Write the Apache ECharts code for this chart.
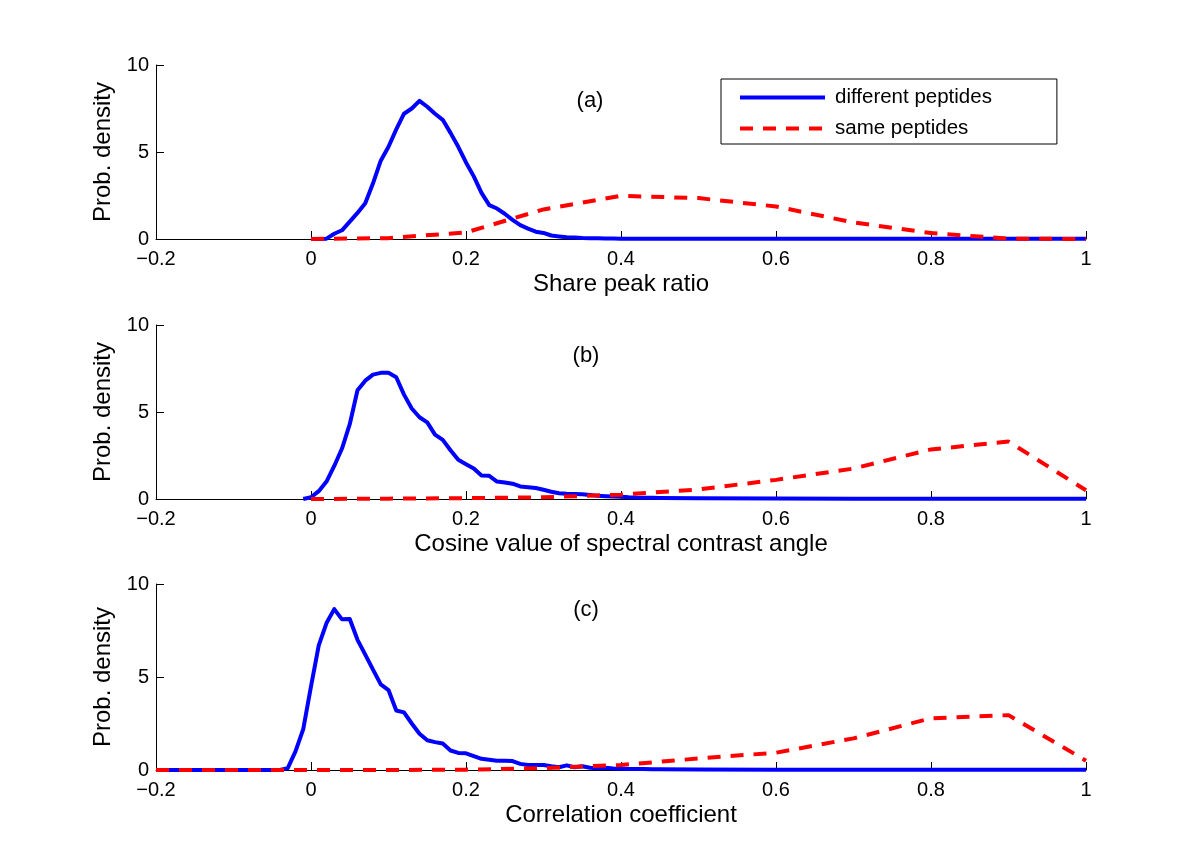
<!DOCTYPE html>
<html>
<head>
<meta charset="utf-8">
<script src="https://cdn.jsdelivr.net/npm/echarts@6/dist/echarts.min.js"></script>
<style>
html,body{margin:0;padding:0;background:#fff;}
#chart{width:1200px;height:866px;}
</style>
</head>
<body>
<div id="chart"></div>
<script>
// ---------- data ----------
var seriesNames = ['different peptides', 'same peptides'];
var panelLabels = ['(a)', '(b)', '(c)'];
var xTitles = ['Share peak ratio', 'Cosine value of spectral contrast angle', 'Correlation coefficient'];
var yTitle = 'Prob. density';

// (a) Share peak ratio
var aDiffX = [0,0.01,0.02,0.03,0.04,0.05,0.06,0.07,0.08,0.09,0.10,0.11,0.12,0.13,0.14,0.15,0.16,0.17,0.18,0.19,0.20,0.21,0.22,0.23,0.24,0.25,0.26,0.27,0.28,0.29,0.30,0.31,0.32,0.33,0.34,0.35,0.36,0.37,0.38,0.39,0.40,0.5,0.6,0.7,0.8,0.9,1.0];
var aDiffY = [0,0,0.02,0.3,0.5,1.0,1.5,2.06,3.2,4.5,5.3,6.3,7.2,7.5,7.94,7.6,7.2,6.85,6.1,5.3,4.4,3.6,2.65,1.95,1.75,1.45,1.1,0.8,0.6,0.42,0.35,0.2,0.15,0.1,0.08,0.06,0.05,0.04,0.03,0.03,0.02,0.02,0.01,0.01,0.01,0.01,0.01];
var aSameX = [0,0.1,0.2,0.3,0.4,0.5,0.6,0.7,0.8,0.9,1.0];
var aSameY = [0,0.05,0.38,1.7,2.48,2.35,1.87,0.95,0.34,0.02,0];

// (b) Cosine value of spectral contrast angle
var bDiffX = [-0.01,0,0.01,0.02,0.03,0.04,0.05,0.06,0.07,0.08,0.09,0.10,0.11,0.12,0.13,0.14,0.15,0.16,0.17,0.18,0.19,0.20,0.21,0.22,0.23,0.24,0.25,0.26,0.27,0.28,0.29,0.30,0.31,0.32,0.33,0.34,0.35,0.36,0.37,0.38,0.39,0.40,0.41,0.42,0.43,0.44,0.45,0.5,0.6,0.7,0.8,0.9,1.0];
var bDiffY = [0,0.1,0.45,1.0,1.9,2.9,4.3,6.25,6.8,7.15,7.25,7.25,7.0,6.0,5.2,4.7,4.4,3.7,3.4,2.8,2.25,2.0,1.75,1.35,1.33,1.0,0.95,0.88,0.72,0.68,0.63,0.53,0.42,0.33,0.3,0.29,0.27,0.23,0.18,0.16,0.14,0.13,0.1,0.08,0.07,0.07,0.06,0.05,0.03,0.02,0.02,0.01,0.01];
var bSameX = [0,0.1,0.2,0.3,0.4,0.5,0.6,0.7,0.8,0.9,1.0];
var bSameY = [0,0.02,0.05,0.1,0.25,0.55,1.1,1.75,2.85,3.3,0.5];

// (c) Correlation coefficient
var cDiffX = [-0.2,-0.1,-0.05,-0.04,-0.03,-0.02,-0.01,0,0.01,0.02,0.03,0.04,0.05,0.06,0.07,0.08,0.09,0.10,0.11,0.12,0.13,0.14,0.15,0.16,0.17,0.18,0.19,0.20,0.21,0.22,0.23,0.24,0.25,0.26,0.27,0.28,0.29,0.30,0.31,0.32,0.33,0.34,0.35,0.36,0.37,0.38,0.39,0.40,0.41,0.42,0.43,0.44,0.45,0.5,0.6,0.7,0.8,0.9,1.0];
var cDiffY = [0,0,0,0,0.1,1.0,2.2,4.5,6.7,7.9,8.65,8.1,8.12,7.0,6.2,5.4,4.6,4.3,3.2,3.1,2.5,1.95,1.6,1.5,1.42,1.05,0.92,0.9,0.75,0.6,0.55,0.5,0.5,0.48,0.33,0.27,0.27,0.27,0.2,0.15,0.25,0.15,0.2,0.12,0.1,0.12,0.08,0.07,0.06,0.05,0.05,0.04,0.04,0.03,0.02,0.02,0.01,0.01,0.01];
var cSameX = [-0.2,-0.1,0,0.1,0.2,0.3,0.4,0.5,0.6,0.7,0.8,0.9,1.0];
var cSameY = [0,0,0,0,0.02,0.1,0.27,0.62,0.93,1.7,2.78,2.95,0.5];

var xTicks = {min: -0.2, max: 1, interval: 0.2};
var yTicks = {min: 0, max: 10, interval: 5};

// ---------- build ----------
function pairs(xs, ys) { return xs.map(function (x, i) { return [x, ys[i]]; }); }

var FONT = 'Liberation Sans, Arial, Helvetica, sans-serif';
var panels = [
  {diff: pairs(aDiffX, aDiffY), same: pairs(aSameX, aSameY)},
  {diff: pairs(bDiffX, bDiffY), same: pairs(bSameX, bSameY)},
  {diff: pairs(cDiffX, cDiffY), same: pairs(cSameX, cSameY)}
];
var grids = [
  {left: 156, right: 114, top: 65, height: 174},
  {left: 156, right: 114, top: 325, height: 174},
  {left: 156, right: 114, top: 584, height: 186}
];
var labelPos = [[590, 101], [586, 356], [586, 610]];

var xAxes = [], yAxes = [], series = [], graphics = [];
grids.forEach(function (g, i) {
  g.outerBoundsMode = 'none';
  g.containLabel = false;
  xAxes.push({
    type: 'value', gridIndex: i, min: xTicks.min, max: xTicks.max, interval: xTicks.interval,
    name: xTitles[i], nameLocation: 'middle', nameGap: 33,
    nameTextStyle: {fontFamily: FONT, fontSize: 24, color: '#000'},
    axisLine: {show: true, onZero: false, lineStyle: {color: '#000', width: 1}},
    axisTick: {show: true, inside: true, length: 8, lineStyle: {color: '#000', width: 1}},
    axisLabel: {fontFamily: FONT, fontSize: 20, color: '#000', margin: 10,
      formatter: function (v) { return String(+v.toFixed(2)).replace('-', '\u2212'); }},
    splitLine: {show: false}
  });
  yAxes.push({
    type: 'value', gridIndex: i, min: yTicks.min, max: yTicks.max, interval: yTicks.interval,
    name: yTitle, nameLocation: 'middle', nameGap: 35,
    nameTextStyle: {fontFamily: FONT, fontSize: 24, color: '#000'},
    axisLine: {show: true, onZero: false, lineStyle: {color: '#000', width: 1}},
    axisTick: {show: true, inside: true, length: 8, lineStyle: {color: '#000', width: 1}},
    axisLabel: {fontFamily: FONT, fontSize: 20, color: '#000', margin: 7},
    splitLine: {show: false}
  });
  series.push({
    name: seriesNames[0], type: 'line', xAxisIndex: i, yAxisIndex: i,
    data: panels[i].diff, symbol: 'none', showSymbol: false, animation: false,
    lineStyle: {color: '#0000ff', width: 4, join: 'round'}, itemStyle: {color: '#0000ff'}, z: 2
  });
  series.push({
    name: seriesNames[1], type: 'line', xAxisIndex: i, yAxisIndex: i,
    data: panels[i].same, symbol: 'none', showSymbol: false, animation: false,
    lineStyle: {color: '#ff0000', width: 4, type: [13, 10], cap: 'butt'}, itemStyle: {color: '#ff0000'}, z: 3
  });
  graphics.push({
    type: 'text', x: labelPos[i][0], y: labelPos[i][1],
    style: {text: panelLabels[i], fill: '#000', font: '22px ' + FONT, align: 'center', verticalAlign: 'middle'}
  });
});

var chart = echarts.init(document.getElementById('chart'), null, {renderer: 'canvas'});
chart.setOption({
  backgroundColor: '#fff',
  animation: false,
  grid: grids,
  xAxis: xAxes,
  yAxis: yAxes,
  series: series,
  graphic: graphics,
  legend: {
    data: seriesNames, orient: 'vertical', left: 721, top: 79,
    padding: [8, 65, 5, 17], itemWidth: 85, itemHeight: 19, itemGap: 10,
    borderColor: '#000', borderWidth: 1, backgroundColor: '#fff',
    itemStyle: {opacity: 0},
    lineStyle: {width: 4},
    textStyle: {fontFamily: FONT, fontSize: 20.5, color: '#000', padding: [0, 0, 0, 5]},
    selectedMode: false
  }
});
</script>
</body>
</html>
